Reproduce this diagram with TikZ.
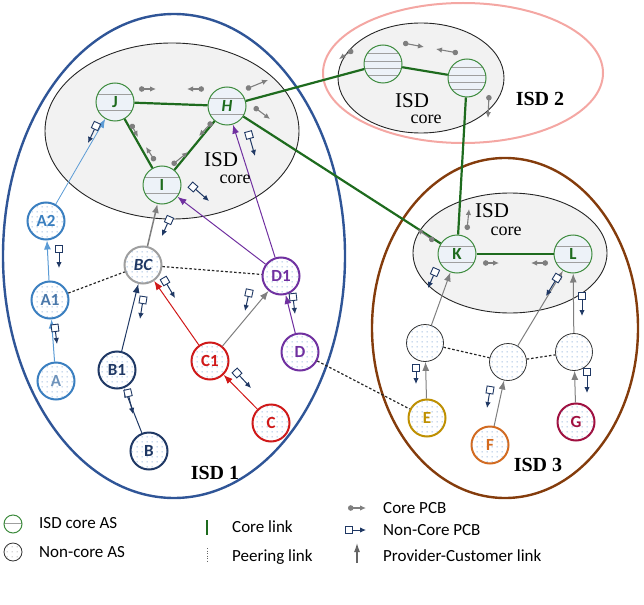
\documentclass[tikz,border=0pt]{standalone}
\usepackage{fontspec}
\setmainfont{Liberation Serif}
\newfontfamily\calfont{Carlito}
\usetikzlibrary{arrows.meta,patterns.meta}
\definecolor{isdblue}{HTML}{2F5597}
\definecolor{isdpink}{HTML}{F4A7A3}
\definecolor{isdbrown}{HTML}{843C0C}
\definecolor{corefill}{HTML}{F2F2F2}
\definecolor{corebg}{HTML}{EDF2F8}
\definecolor{coregreen}{HTML}{1E6B1E}
\definecolor{nodegreen}{HTML}{3D8B3D}
\definecolor{abl}{HTML}{3A7FC0}
\definecolor{atext}{HTML}{4A78AA}
\definecolor{alink}{HTML}{5B9BD5}
\definecolor{navy}{HTML}{1F3864}
\definecolor{cred}{HTML}{D01818}
\definecolor{purp}{HTML}{7030A0}
\definecolor{egold}{HTML}{BF9000}
\definecolor{forange}{HTML}{D46A1E}
\definecolor{gcrim}{HTML}{A01040}
\definecolor{pcgray}{HTML}{7F7F7F}
\definecolor{dotblue}{HTML}{6F9AD0}
\tikzdeclarepattern{name=asdots, type=uncolored,
  bounding box={(0pt,0pt) and (5pt,5pt)}, tile size={(5pt,5pt)},
  code={\fill (2.5pt,2.5pt) circle (0.7pt);}}
\tikzset{
  ncnode/.style={circle, minimum size=37pt, inner sep=0pt, line width=2pt, fill=white,
    postaction={pattern=asdots, pattern color=dotblue},
    font=\calfont\bfseries\fontsize{17}{17}\selectfont},
  corenode/.style={circle, minimum size=38pt, inner sep=0pt, draw=nodegreen, line width=1pt,
    fill=corebg, text=coregreen, font=\calfont\bfseries\fontsize{17}{17}\selectfont,
    path picture={\draw[gray!75, line width=0.7pt]
      ([yshift=8pt]path picture bounding box.west) -- ([yshift=8pt]path picture bounding box.east)
      ([yshift=-8pt]path picture bounding box.west) -- ([yshift=-8pt]path picture bounding box.east);}},
  corenodeb/.style={corenode,
    path picture={\draw[gray!75, line width=0.7pt]
      ([yshift=11pt]path picture bounding box.west) -- ([yshift=11pt]path picture bounding box.east)
      ([yshift=3pt]path picture bounding box.west) -- ([yshift=3pt]path picture bounding box.east)
      ([yshift=-4pt]path picture bounding box.west) -- ([yshift=-4pt]path picture bounding box.east)
      ([yshift=-11pt]path picture bounding box.west) -- ([yshift=-11pt]path picture bounding box.east);}},
  coreline/.style={coregreen, line width=2.2pt},
  pcarrow/.style={-{Latex[length=9pt,width=7pt]}, line width=1pt},
  peer/.style={dash pattern=on 2.5pt off 2pt, line width=1.2pt, black!85},
  cpcb/.style={pcgray, line width=1.1pt, {Circle[length=5.5pt]}-{Latex[length=6pt,width=5.5pt]}},
  ncpcbline/.style={navy, line width=1pt, -{Latex[length=6pt,width=5.5pt]}},
  ncsq/.style={draw=navy, fill=white, minimum size=7pt, inner sep=0pt, line width=0.9pt},
  isdlab/.style={anchor=base, inner sep=0pt, font=\fontsize{21}{21}\selectfont},
  corelab/.style={anchor=base, inner sep=0pt, font=\fontsize{18}{18}\selectfont},
  isdbig/.style={font=\bfseries\fontsize{20}{20}\selectfont},
  legtext/.style={anchor=west, font=\calfont\fontsize{17}{17}\selectfont, inner sep=0pt}
}
\newcommand\cpcbicon[2]{\draw[cpcb] #1 -- #2;}
\newcommand\ncicon[2]{\draw[ncpcbline] #1 -- #2 node[pos=0,sloped,ncsq]{};}
\begin{document}
\begin{tikzpicture}[x=1pt,y=-1pt]
\useasboundingbox (0,0) rectangle (644,604);
% outer ISD ellipses
\draw[isdblue, line width=2.4pt] (174,256) ellipse [x radius=171pt, y radius=242pt];
\draw[isdpink, line width=2pt] (463,73) ellipse [x radius=140pt, y radius=70pt];
\draw[isdbrown, line width=2.4pt] (505,328) ellipse [x radius=133pt, y radius=170pt];
% core ellipses
\draw[black!85, line width=0.9pt, fill=corefill] (172,131) ellipse [x radius=127pt, y radius=88pt];
\draw[black!85, line width=0.9pt, fill=corefill] (421,78) ellipse [x radius=83pt, y radius=55pt];
\draw[black!85, line width=0.9pt, fill=corefill] (510,253) ellipse [x radius=97pt, y radius=60pt];
% core nodes
\node[corenode] (J) at (115,102) {J};
\node[corenode] (H) at (227,106) {\itshape H};
\node[corenode] (I) at (162,185) {I};
\node[corenodeb] (S2a) at (383,64) {};
\node[corenodeb] (S2b) at (467,78) {};
\node[corenode] (K) at (457,254) {K};
\node[corenode] (L) at (573,254) {L};
% non-core nodes
\node[ncnode, draw=abl, text=abl] (A2) at (46,221) {A2};
\node[ncnode, draw=abl, text=atext] (A1) at (50,300) {A1};
\node[ncnode, draw=abl, text=atext!80] (A) at (56,381) {A};
\node[ncnode, draw=gray!75, text=navy] (BC) at (143,265) {\itshape BC};
\node[ncnode, draw=navy, text=navy] (B1) at (117,370) {B1};
\node[ncnode, draw=navy, text=navy] (B) at (149,451) {B};
\node[ncnode, draw=cred, text=cred] (C1) at (210,361) {C1};
\node[ncnode, draw=cred, text=cred] (C) at (271,423) {C};
\node[ncnode, draw=purp, text=purp] (D1) at (281,276) {D1};
\node[ncnode, draw=purp, text=purp] (D) at (300,352) {D};
\node[ncnode, draw=black!80, line width=0.8pt] (n1) at (425,343) {};
\node[ncnode, draw=black!80, line width=0.8pt] (n2) at (508,362) {};
\node[ncnode, draw=black!80, line width=0.8pt] (n3) at (574,352) {};
\node[ncnode, draw=egold, text=egold] (E) at (427,418) {E};
\node[ncnode, draw=forange, text=forange] (F) at (490,445) {F};
\node[ncnode, draw=gcrim, text=gcrim] (G) at (576,422) {G};
% core links
\draw[coreline] (J) -- (H);
\draw[coreline] (J) -- (I);
\draw[coreline] (H) -- (I);
\draw[coreline] (H) -- (S2a);
\draw[coreline] (H) -- (K);
\draw[coreline] (S2a) -- (S2b);
\draw[coreline] (S2b) -- (K);
\draw[coreline] (K) -- (L);
% provider-customer links
\draw[pcarrow, alink] (A) -- (A1);
\draw[pcarrow, alink] (A1) -- (A2);
\draw[pcarrow, alink, line width=0.8pt] (A2) -- (J);
\draw[pcarrow, navy] (B) -- (B1);
\draw[pcarrow, navy] (B1) -- (BC);
\draw[pcarrow, cred] (C) -- (C1);
\draw[pcarrow, cred] (C1) -- (BC);
\draw[pcarrow, pcgray] (C1) -- (D1);
\draw[pcarrow, purp] (D) -- (D1);
\draw[pcarrow, purp] (D1) -- (I);
\draw[pcarrow, purp] (D1) -- (H);
\draw[pcarrow, pcgray, line width=1.5pt] (BC) -- (I);
\draw[pcarrow, pcgray] (E) -- (n1);
\draw[pcarrow, pcgray] (F) -- (n2);
\draw[pcarrow, pcgray] (G) -- (n3);
\draw[pcarrow, pcgray] (n1) -- (K);
\draw[pcarrow, pcgray] (n2) -- (L);
\draw[pcarrow, pcgray] (n3) -- (L);
% peering links
\draw[peer] (A1) -- (BC);
\draw[peer] (BC) -- (D1);
\draw[peer] (D) -- (E);
\draw[peer] (n1) -- (n2);
\draw[peer] (n2) -- (n3);
% core PCB icons
\cpcbicon{(139,89)}{(156,89)}
\cpcbicon{(204,89)}{(187,89)}
\cpcbicon{(246,89)}{(268,80)}
\cpcbicon{(254,107)}{(270,119)}
\cpcbicon{(131,124)}{(138,137)}
\cpcbicon{(212,122)}{(199,136)}
\cpcbicon{(155,161)}{(146,147)}
\cpcbicon{(172,165)}{(188,152)}
\cpcbicon{(353,50)}{(339,59)}
\cpcbicon{(403,43)}{(424,47)}
\cpcbicon{(458,53)}{(436,49)}
\cpcbicon{(489,95)}{(488,118)}
\cpcbicon{(434,241)}{(417,229)}
\cpcbicon{(467,230)}{(469,209)}
\cpcbicon{(483,263)}{(499,263)}
\cpcbicon{(548,263)}{(531,263)}
% non-core PCB icons
\ncicon{(96,126)}{(88,143)}
\ncicon{(249,135)}{(255,156)}
\ncicon{(193,187)}{(209,201)}
\ncicon{(169,220)}{(162,236)}
\ncicon{(59,249)}{(59,268)}
\ncicon{(165,281)}{(175,298)}
\ncicon{(143,300)}{(140,319)}
\ncicon{(55,328)}{(57,344)}
\ncicon{(128,393)}{(133,414)}
\ncicon{(237,373)}{(251,388)}
\ncicon{(249,293)}{(245,311)}
\ncicon{(293,297)}{(295,314)}
\ncicon{(435,272)}{(428,288)}
\ncicon{(557,278)}{(546,296)}
\ncicon{(582,296)}{(582,316)}
\ncicon{(416,368)}{(416,384)}
\ncicon{(490,390)}{(487,408)}
\ncicon{(587,372)}{(587,393)}
% labels
\node[isdlab] (t1) at (221,166) {ISD};
\node[corelab] (t2) at (235,183) {core};
\node[isdlab] (t3) at (412,108) {ISD};
\node[corelab] (t4) at (426,124) {core};
\node[isdlab] (t5) at (492,217) {ISD};
\node[corelab] (t6) at (506,235) {core};
\node[isdbig] (t7) at (215,473) {ISD 1};
\node[isdbig] (t8) at (540,99) {ISD 2};
\node[isdbig] (t9) at (538,465) {ISD 3};
% legend
\node[circle, draw=nodegreen, line width=1pt, minimum size=18pt, inner sep=0pt, fill=white,
  path picture={\draw[gray!75, line width=0.7pt] ([yshift=1pt]path picture bounding box.west) -- ([yshift=1pt]path picture bounding box.east);}] (lg1) at (13,524) {};
\node[circle, draw=black!80, line width=0.8pt, minimum size=18pt, inner sep=0pt, fill=white,
  postaction={pattern=asdots, pattern color=gray!60}] (lg2) at (13,552) {};
\node[legtext] (lt1) at (39,523) {ISD core AS};
\node[legtext] (lt2) at (39,552) {Non-core AS};
\coordinate (cl1) at (207,520);
\coordinate (cl2) at (207,535);
\draw[coregreen, line width=2pt] (cl1) -- (cl2);
\coordinate (pl1) at (207,548);
\coordinate (pl2) at (207,562);
\draw[black!60, dash pattern=on 1pt off 1.5pt, line width=0.6pt] (pl1) -- (pl2);
\node[legtext] (lt3) at (232,527) {Core link};
\node[legtext] (lt4) at (232,557) {Peering link};
\cpcbicon{(348,508)}{(366,508)}
\ncicon{(349,530)}{(366,530)}
\coordinate (pc1) at (357,563);
\coordinate (pc2) at (357,543);
\draw[pcgray!80!black, line width=1.2pt, -{Latex[length=9pt,width=6pt]}] (pc1) -- (pc2);
\node[legtext] (lt5) at (383,508) {Core PCB};
\node[legtext] (lt6) at (383,530) {Non-Core PCB};
\node[legtext] (lt7) at (383,556) {Provider-Customer link};
\end{tikzpicture}
\end{document}
